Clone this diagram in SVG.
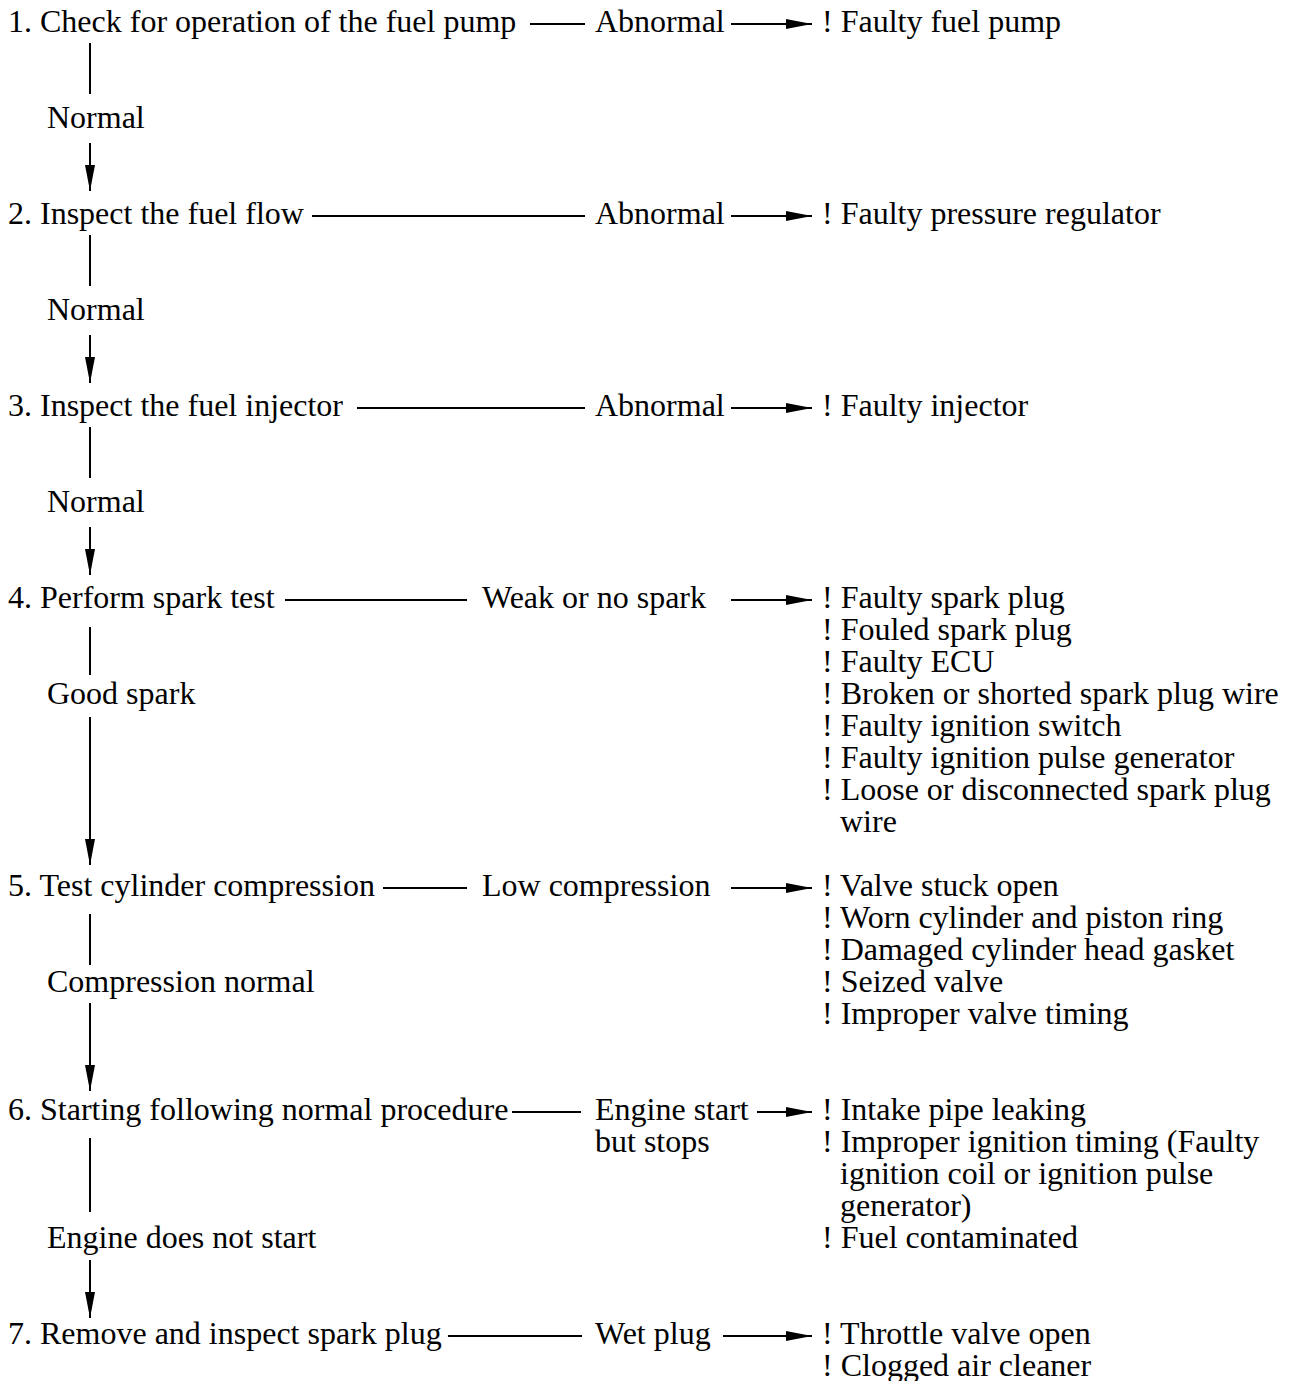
<svg xmlns="http://www.w3.org/2000/svg" width="1290" height="1381" viewBox="0 0 1290 1381">
<defs>
<style>
text{font-family:"Liberation Serif","Times New Roman",serif;font-size:32px;fill:#000}
.ln{stroke:#000;stroke-width:2;fill:none}
.ar{stroke:#000;stroke-width:2;fill:none;marker-end:url(#ah)}
</style>
<marker id="ah" markerUnits="userSpaceOnUse" markerWidth="28" markerHeight="12" refX="26" refY="5" orient="auto">
<path d="M0,0 L26,5 L0,10 z" fill="#000"/>
</marker>
</defs>
<rect width="1290" height="1381" fill="#fff"/>
<g id="connectors">
<!-- step 1 -->
<line class="ln" x1="90" y1="43" x2="90" y2="94"/>
<line class="ar" x1="90" y1="143" x2="90" y2="191"/>
<line class="ln" x1="530" y1="24" x2="585" y2="24"/>
<line class="ar" x1="731" y1="24" x2="812" y2="24"/>
<!-- step 2 -->
<line class="ln" x1="90" y1="235" x2="90" y2="286"/>
<line class="ar" x1="90" y1="335" x2="90" y2="383"/>
<line class="ln" x1="312" y1="216" x2="585" y2="216"/>
<line class="ar" x1="731" y1="216" x2="812" y2="216"/>
<!-- step 3 -->
<line class="ln" x1="90" y1="427" x2="90" y2="478"/>
<line class="ar" x1="90" y1="527" x2="90" y2="575"/>
<line class="ln" x1="357" y1="408" x2="585" y2="408"/>
<line class="ar" x1="731" y1="408" x2="812" y2="408"/>
<!-- step 4 -->
<line class="ln" x1="90" y1="627" x2="90" y2="675"/>
<line class="ar" x1="90" y1="717" x2="90" y2="865"/>
<line class="ln" x1="285" y1="600" x2="467" y2="600"/>
<line class="ar" x1="731" y1="600" x2="812" y2="600"/>
<!-- step 5 -->
<line class="ln" x1="90" y1="914" x2="90" y2="965"/>
<line class="ar" x1="90" y1="1003" x2="90" y2="1091"/>
<line class="ln" x1="383" y1="888" x2="467" y2="888"/>
<line class="ar" x1="731" y1="888" x2="812" y2="888"/>
<!-- step 6 -->
<line class="ln" x1="90" y1="1138" x2="90" y2="1212"/>
<line class="ar" x1="90" y1="1260" x2="90" y2="1318"/>
<line class="ln" x1="512" y1="1112" x2="581" y2="1112"/>
<line class="ar" x1="757" y1="1112" x2="812" y2="1112"/>
<!-- step 7 -->
<line class="ln" x1="448" y1="1336" x2="582" y2="1336"/>
<line class="ar" x1="723" y1="1336" x2="812" y2="1336"/>
</g>
<g id="step1"><text x="8" y="32">1. Check for operation of the fuel pump</text></g>
<g id="step2"><text x="8" y="224">2. Inspect the fuel flow</text></g>
<g id="step3"><text x="8" y="416">3. Inspect the fuel injector</text></g>
<g id="step4"><text x="8" y="608">4. Perform spark test</text></g>
<g id="step5"><text x="8" y="896">5. Test cylinder compression</text></g>
<g id="step6"><text x="8" y="1120">6. Starting following normal procedure</text></g>
<g id="step7"><text x="8" y="1344">7. Remove and inspect spark plug</text></g>
<g id="labels-normal">
<text x="47" y="128">Normal</text>
<text x="47" y="320">Normal</text>
<text x="47" y="512">Normal</text>
<text x="47" y="704">Good spark</text>
<text x="47" y="992">Compression normal</text>
<text x="47" y="1248">Engine does not start</text>
</g>
<g id="labels-abnormal">
<text x="595" y="32">Abnormal</text>
<text x="595" y="224">Abnormal</text>
<text x="595" y="416">Abnormal</text>
<text x="482" y="608">Weak or no spark</text>
<text x="482" y="896">Low compression</text>
<text x="595" y="1120">Engine start</text>
<text x="595" y="1152">but stops</text>
<text x="595" y="1344">Wet plug</text>
</g>
<g id="result1"><text x="822" y="32">! Faulty fuel pump</text></g>
<g id="result2"><text x="822" y="224">! Faulty pressure regulator</text></g>
<g id="result3"><text x="822" y="416">! Faulty injector</text></g>
<g id="result4">
<text x="822" y="608">! Faulty spark plug</text>
<text x="822" y="640">! Fouled spark plug</text>
<text x="822" y="672">! Faulty ECU</text>
<text x="822" y="704">! Broken or shorted spark plug wire</text>
<text x="822" y="736">! Faulty ignition switch</text>
<text x="822" y="768">! Faulty ignition pulse generator</text>
<text x="822" y="800">! Loose or disconnected spark plug</text>
<text x="840" y="832">wire</text>
</g>
<g id="result5">
<text x="822" y="896">! Valve stuck open</text>
<text x="822" y="928">! Worn cylinder and piston ring</text>
<text x="822" y="960">! Damaged cylinder head gasket</text>
<text x="822" y="992">! Seized valve</text>
<text x="822" y="1024">! Improper valve timing</text>
</g>
<g id="result6">
<text x="822" y="1120">! Intake pipe leaking</text>
<text x="822" y="1152">! Improper ignition timing (Faulty</text>
<text x="840" y="1184">ignition coil or ignition pulse</text>
<text x="840" y="1216">generator)</text>
<text x="822" y="1248">! Fuel contaminated</text>
</g>
<g id="result7">
<text x="822" y="1344">! Throttle valve open</text>
<text x="822" y="1376">! Clogged air cleaner</text>
</g>
</svg>
